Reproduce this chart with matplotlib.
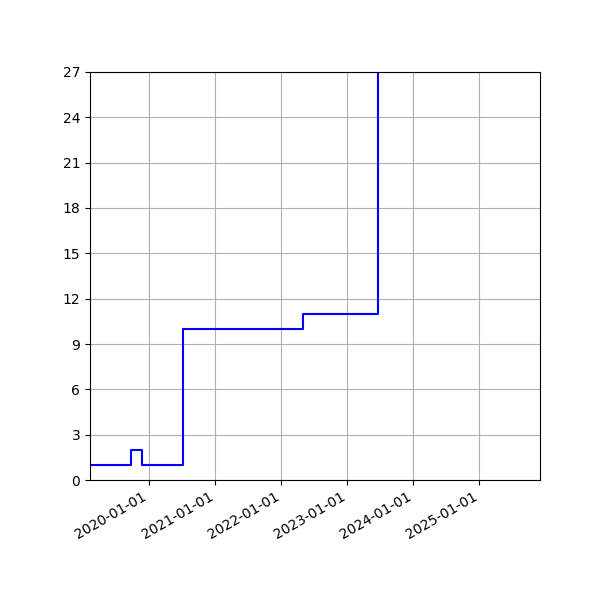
import numpy as np
import matplotlib
matplotlib.use("Agg")
import matplotlib.pyplot as plt
import matplotlib.dates as mdates

# step data
dates = np.array(["2019-02-07", "2019-09-20", "2019-11-23", "2020-07-04",
                  "2022-05-02", "2023-06-22"], dtype="datetime64[D]")
values = [1, 2, 1, 10, 11, 40]

x_start = np.datetime64("2019-02-07")
x_end = np.datetime64("2025-12-02")

fig = plt.figure(figsize=(6, 6), dpi=100)
ax = fig.add_axes([0.15, 0.2, 0.75, 0.68])

ax.step(dates, values, where="post", color="blue", linewidth=1.5)

ax.set_xlim(x_start, x_end)
ax.set_ylim(0, 27)
ax.yaxis.set_major_locator(plt.MultipleLocator(3))
ax.xaxis.set_major_locator(mdates.YearLocator())
ax.xaxis.set_major_formatter(mdates.DateFormatter("%Y-%m-%d"))
ax.grid(True, color="#b0b0b0")
for lbl in ax.get_xticklabels():
    lbl.set_rotation(30)
    lbl.set_ha("right")

fig.savefig("out.png", dpi=100)
plt.close(fig)
